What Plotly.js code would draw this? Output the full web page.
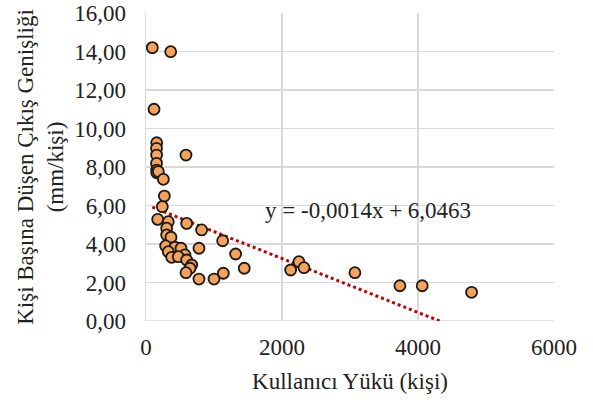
<!DOCTYPE html>
<html>
<head>
<meta charset="utf-8">
<script src="https://cdn.plot.ly/plotly-3.0.1.min.js"></script>
<style>html,body{margin:0;padding:0;background:#fff;}#chart{width:593px;height:403px;}</style>
</head>
<body>
<div id="chart"></div>
<script>
// Kullanıcı yükü (kişi)
const userLoad = [93, 363, 118, 157, 155, 156, 155, 157, 158, 181, 255, 588,
  270, 240, 172, 328, 598, 818, 304, 304, 368, 1127, 289, 426, 515, 779,
  328, 573, 378, 475, 1318, 598, 672, 647, 588, 1445, 1137, 779, 1000,
  2127, 2249, 2323, 3072, 3734, 4062, 4788];
// Kişi başına düşen çıkış genişliği (mm/kişi)
const widthPerPerson = [14.2, 13.99, 11.0, 9.26, 8.97, 8.62, 8.19, 7.84, 7.70, 7.76, 7.36, 8.62,
  6.49, 5.94, 5.28, 5.16, 5.07, 4.73, 4.82, 4.47, 4.35, 4.17, 3.9, 3.83, 3.78, 3.78,
  3.6, 3.43, 3.31, 3.34, 3.48, 3.17, 2.91, 2.74, 2.51, 2.74, 2.48, 2.18, 2.18,
  2.65, 3.08, 2.77, 2.51, 1.83, 1.83, 1.49];
// Trend line coefficients
const slope = -0.0014;
const intercept = 6.0463;
const yTicks = [0, 2, 4, 6, 8, 10, 12, 14, 16];
const xTicks = [0, 2000, 4000, 6000];

const xMin = Math.min(...userLoad), xMax = Math.max(...userLoad);
const trendX = [xMin, xMax];
const trendY = trendX.map(x => slope * x + intercept);

const serif = 'Liberation Serif';
const fs = 23;

const data = [
  {
    x: trendX, y: trendY, type: 'scatter', mode: 'lines',
    line: {color: '#c00000', width: 3, dash: 'dot'},
    hoverinfo: 'skip', showlegend: false
  },
  {
    x: userLoad, y: widthPerPerson, type: 'scatter', mode: 'markers',
    marker: {size: 11, color: '#f5a25a', line: {color: '#1a1a1a', width: 1.8}},
    showlegend: false
  }
];

const layout = {
  width: 593, height: 403,
  margin: {l: 146, r: 39, t: 13, b: 82},
  paper_bgcolor: '#ffffff', plot_bgcolor: '#ffffff',
  separators: ',.',
  font: {family: serif, size: fs, color: '#222'},
  xaxis: {
    range: [0, 6000], tickvals: xTicks, tickformat: 'd',
    showgrid: true, gridcolor: '#d9d9d9', gridwidth: 1.5,
    zeroline: false, showline: false, ticks: '',
    ticklabelstandoff: 10,
    tickfont: {family: serif, size: fs, color: '#222'},
    title: {text: 'Kullanıcı Yükü (kişi)', font: {family: serif, size: fs, color: '#222'}, standoff: 13}
  },
  yaxis: {
    range: [0, 16], tickvals: yTicks, tickformat: '.2f',
    showgrid: true, gridcolor: '#d9d9d9', gridwidth: 1.5,
    zeroline: false, showline: true, linecolor: '#d9d9d9', linewidth: 1.5, ticks: '',
    ticklabelstandoff: 14,
    tickfont: {family: serif, size: fs, color: '#222'},
    title: {text: 'Kişi Başına Düşen Çıkış Genişliği<br>(mm/kişi)', font: {family: serif, size: fs, color: '#222'}, standoff: 4}
  },
  annotations: [{
    x: 3270, y: 5.75, xref: 'x', yref: 'y', showarrow: false,
    text: 'y = -0,0014x + 6,0463',
    font: {family: serif, size: 23, color: '#222'}
  }],
  shapes: [{
    type: 'line', xref: 'x', yref: 'y', x0: 0, x1: 6000, y0: 0, y1: 0,
    line: {color: '#d9d9d9', width: 1.5}, layer: 'below'
  }]
};

Plotly.newPlot('chart', data, layout, {displayModeBar: false, staticPlot: true});
</script>
</body>
</html>
